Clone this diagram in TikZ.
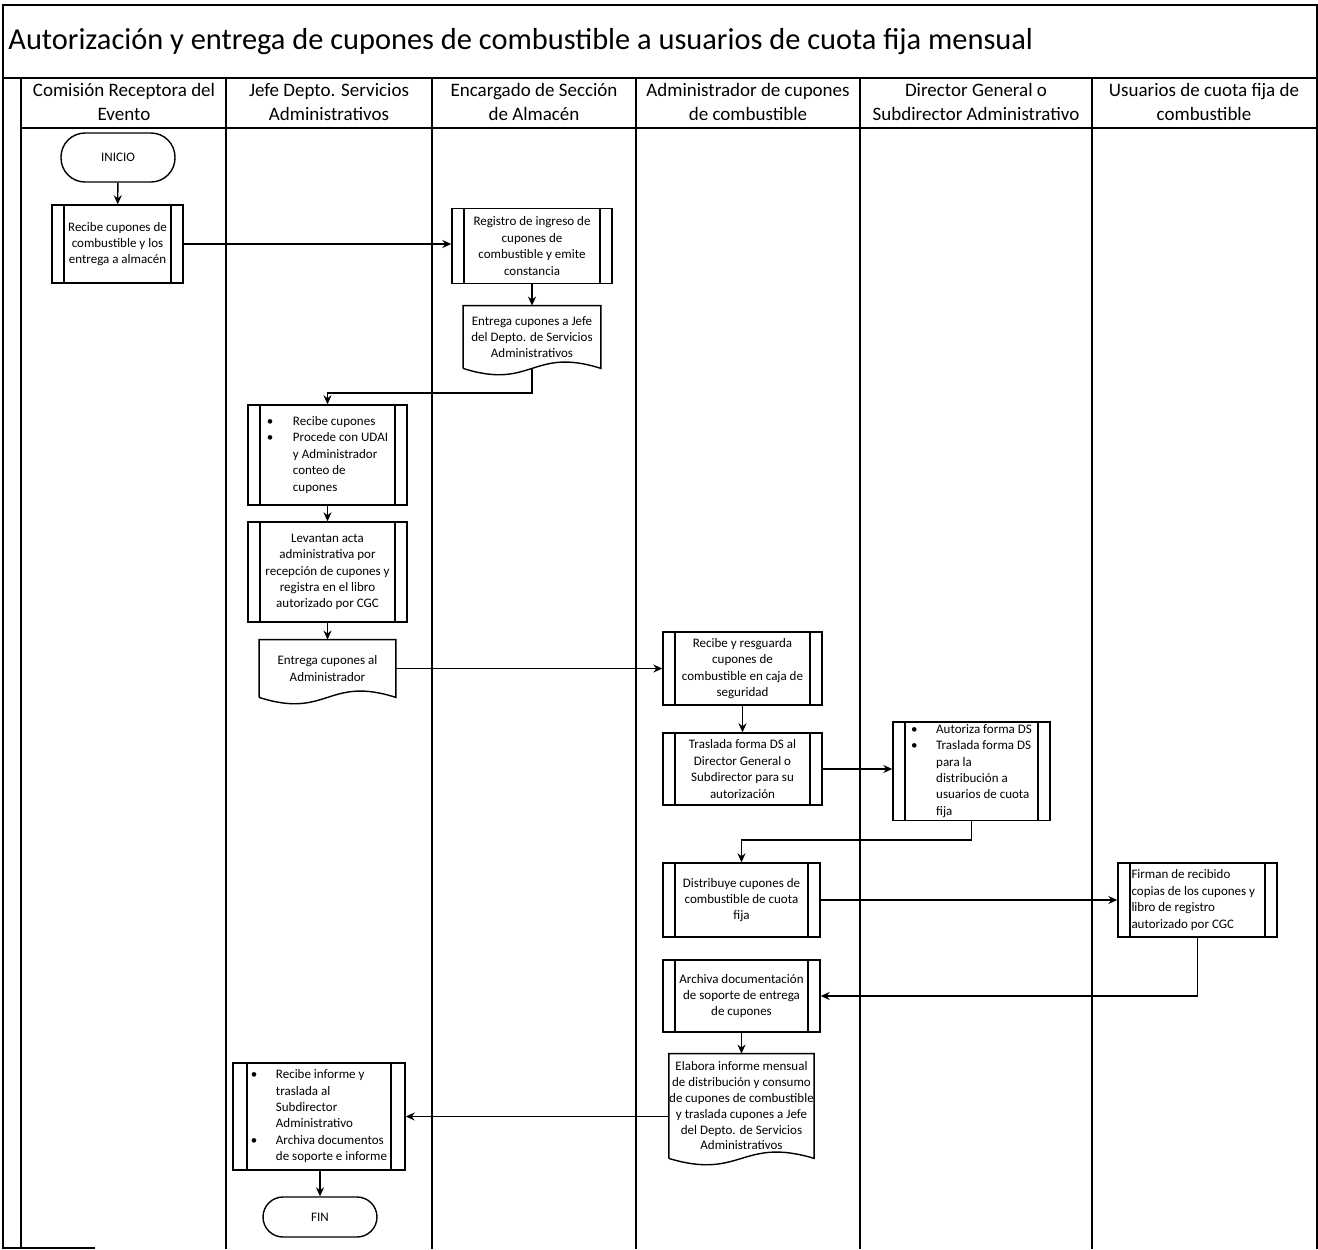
\documentclass[tikz,border=0pt]{standalone}
\usepackage{fontspec}
\setmainfont{Carlito}
\usetikzlibrary{arrows.meta,calc}
\newcommand\mydocshape[1]{\draw[line width=0.7pt] (#1.south west) -- (#1.north west) -- (#1.north east) -- (#1.south east) .. controls ($(#1.south)+(0,-22)$) and ($(#1.south)+(0,22)$) .. (#1.south west);}
\begin{document}
\begin{tikzpicture}[x=0.5pt,y=-0.5pt,
  lane/.style={line width=1pt},
  box/.style={draw, line width=0.7pt, align=center, inner sep=0pt, font=\fontsize{6.5}{8.2}\selectfont},
  proc/.style={box, path picture={\draw[line width=0.7pt]
      ([xshift=#1]path picture bounding box.north west) -- ([xshift=#1]path picture bounding box.south west)
      ([xshift=-#1]path picture bounding box.north east) -- ([xshift=-#1]path picture bounding box.south east);}},
  proc/.default=6pt,
  term/.style={box, rounded corners=12pt},
  doc/.style={align=center, inner sep=0pt, font=\fontsize{6.5}{8.2}\selectfont},
  arr/.style={line width=0.7pt, -{Stealth[length=4.5pt,width=4pt]}},
  hdr/.style={align=center, inner sep=0pt, font=\fontsize{9.5}{12}\selectfont}]
\useasboundingbox (0,0) rectangle (1318,1249);
% frame and lanes
\draw[lane] (3,1249) -- (3,5) -- (1317,5) -- (1317,1249);
\draw[lane] (3,78) -- (1317,78);
\draw[lane] (21,128) -- (1317,128);
\foreach \x in {21,226,432,636,860,1092} \draw[lane] (\x,78) -- (\x,1249);
\draw[lane] (3,1248) -- (95,1248);
% title and headers
\node[anchor=west, inner sep=0pt, font=\fontsize{15.2}{17}\selectfont] (title) at (8,42) {Autorización y entrega de cupones de combustible a usuarios de cuota fija mensual};
\node[hdr] (h1) at (124,102) {Comisión Receptora del\\Evento};
\node[hdr] (h2) at (329,102) {Jefe Depto. Servicios\\Administrativos};
\node[hdr] (h3) at (534,102) {Encargado de Sección\\de Almacén};
\node[hdr] (h4) at (748,102) {Administrador de cupones\\de combustible};
\node[hdr] (h5) at (976,102) {Director General o\\Subdirector Administrativo};
\node[hdr] (h6) at (1204,102) {Usuarios de cuota fija de\\combustible};
% nodes
\node[term, minimum width=57pt, minimum height=24.5pt] (inicio) at (118,157.5) {INICIO};
\node[proc, minimum width=65.5pt, minimum height=39pt] (n1) at (117.5,244) {Recibe cupones de\\combustible y los\\entrega a almacén};
\node[proc, minimum width=80pt, minimum height=37.5pt] (n2) at (532,246) {Registro de ingreso de\\cupones de\\combustible y emite\\constancia};
\node[doc, minimum width=68.5pt, minimum height=31pt] (d1) at (532,337) {Entrega cupones a Jefe\\del Depto. de Servicios\\Administrativos};
\mydocshape{d1}
\coordinate (c1) at (532,393);
\node[proc, minimum width=79.5pt, minimum height=50pt] (n4) at (327.5,455) {\begin{tabular}{@{}p{13pt}@{}l@{}}\textbullet & Recibe cupones\\ \textbullet & Procede con UDAI\\ & y Administrador\\ & conteo de\\ & cupones\end{tabular}};
\node[proc, minimum width=79.5pt, minimum height=50pt] (n5) at (327.5,572) {Levantan acta\\administrativa por\\recepción de cupones y\\registra en el libro\\autorizado por CGC};
\node[doc, minimum width=68pt, minimum height=28.5pt] (d2) at (327.5,668.5) {Entrega cupones al\\Administrador};
\mydocshape{d2}
\node[proc, minimum width=79.5pt, minimum height=36.5pt] (n7) at (742.5,668.5) {Recibe y resguarda\\cupones de\\combustible en caja de\\seguridad};
\node[proc, minimum width=79.5pt, minimum height=36pt] (n8) at (742.5,769) {Traslada forma DS al\\Director General o\\Subdirector para su\\autorización};
\node[proc, minimum width=78.5pt, minimum height=49pt] (n9) at (971.5,771) {\begin{tabular}{@{}p{12.5pt}@{}l@{}}\textbullet & Autoriza forma DS\\ \textbullet & Traslada forma DS\\ & para la\\ & distribución a\\ & usuarios de cuota\\ & fija\end{tabular}};
\coordinate (c2) at (971.5,840);
\node[proc, minimum width=78.5pt, minimum height=37pt] (n10) at (741.5,900) {Distribuye cupones de\\combustible de cuota\\fija};
\node[proc, minimum width=79.5pt, minimum height=37pt, text width=66pt, align=flush left] (n11) at (1197.5,900) {Firman de recibido\\copias de los cupones y\\libro de registro\\autorizado por CGC};
\node[proc, minimum width=78.5pt, minimum height=36pt] (n12) at (741.5,996) {Archiva documentación\\de soporte de entrega\\de cupones};
\node[doc, minimum width=72pt, minimum height=52pt, font=\fontsize{6.5}{7.9}\selectfont] (d3) at (741.5,1106) {Elabora informe mensual\\de distribución y consumo\\de cupones de combustible\\y traslada cupones a Jefe\\del Depto. de Servicios\\Administrativos};
\mydocshape{d3}
\node[proc=7pt, minimum width=86pt, minimum height=53.5pt] (n14) at (319,1116.5) {\begin{tabular}{@{}p{12.5pt}@{}l@{}}\textbullet & Recibe informe y\\ & traslada al\\ & Subdirector\\ & Administrativo\\ \textbullet & Archiva documentos\\ & de soporte e informe\end{tabular}};
\node[term, minimum width=57pt, minimum height=20pt, rounded corners=10pt] (fin) at (320,1217) {FIN};
% connectors
\draw[arr] (inicio) -- (n1);
\draw[arr] (n1.east) -- (n1.east -| n2.west);
\draw[arr] (n2) -- (d1);
\draw[arr] (d1.south) -- (c1) -| (n4.north);
\draw[arr] (n4) -- (n5);
\draw[arr] (n5) -- (d2);
\draw[arr] (d2) -- (n7);
\draw[arr] (n7) -- (n8);
\draw[arr] (n8.east) -- (n8.east -| n9.west);
\draw[arr] (n9.south) -- (c2) -| (n10.north);
\draw[arr] (n10) -- (n11);
\draw[arr] (n11.south) |- (n12.east);
\draw[arr] (n12) -- (d3);
\draw[arr] (d3.west |- n14.east) -- (n14.east);
\draw[arr] (fin.north |- n14.south) -- (fin.north);
\end{tikzpicture}
\end{document}
